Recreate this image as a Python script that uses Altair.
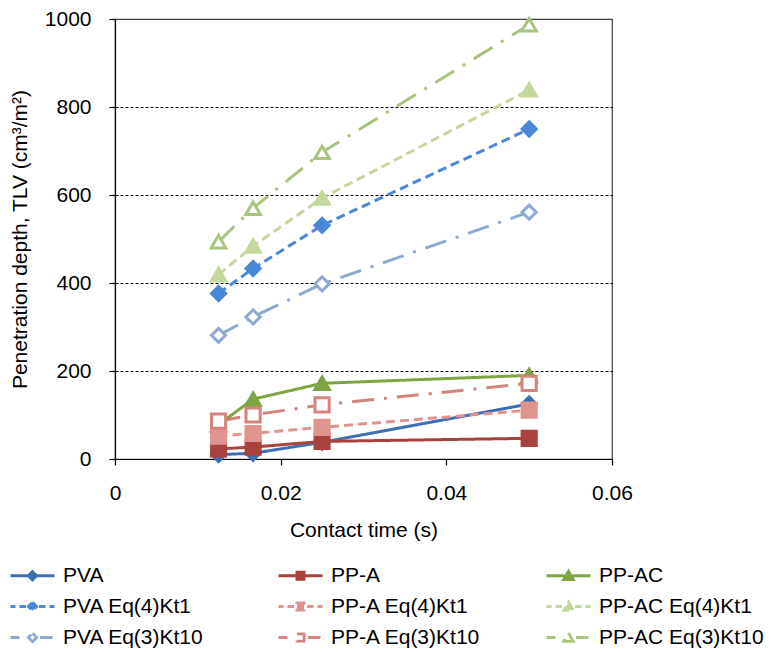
import altair as alt
import pandas as pd

# ---- data ----
contact_time = [0.0125, 0.01667, 0.025, 0.05]

# order chosen so that the 3-column legend reads row by row as in the reference
series_names = [
    "PVA", "PVA Eq(4)Kt1", "PVA Eq(3)Kt10",
    "PP-A", "PP-A Eq(4)Kt1", "PP-A Eq(3)Kt10",
    "PP-AC", "PP-AC Eq(4)Kt1", "PP-AC Eq(3)Kt10",
]
pva = [10, 13, 38, 125]
pva_eq4 = [376, 433, 531, 750]
pva_eq3 = [281, 323, 398, 561]
pp_a = [23, 27, 40, 47]
pp_a_eq4 = [52, 58, 72, 111]
pp_a_eq3 = [86, 100, 123, 172]
pp_ac = [78, 136, 172, 190]
pp_ac_eq4 = [419, 484, 593, 839]
pp_ac_eq3 = [494, 570, 697, 987]
values = [pva, pva_eq4, pva_eq3, pp_a, pp_a_eq4, pp_a_eq3, pp_ac, pp_ac_eq4, pp_ac_eq3]

y_ticks = [0, 200, 400, 600, 800, 1000]
x_ticks = [0, 0.02, 0.04, 0.06]

# ---- styles ----
colors = ["#3F6FB3", "#4A87D9", "#8EAAD2",
          "#A9423E", "#E0948F", "#D6827E",
          "#7EA444", "#C4D79C", "#A8C47E"]
markers = ["diamond"] * 3 + ["square"] * 3 + ["triangle-up"] * 3
hollow = [False, False, True] * 3
dash_kind = ["solid", "dash", "dashdot"] * 3
dash_arrays = {"solid": [1, 0], "dash": [9, 5], "dashdot": [22, 10, 3, 10]}

rows = []
for name, vals, mk in zip(series_names, values, markers):
    for t, v in zip(contact_time, vals):
        rows.append({"series": name, "t": t, "v": v, "marker": mk})
df = pd.DataFrame(rows)

fills = [("white" if h else c) for c, h in zip(colors, hollow)]

# legend symbol paths: line segments + marker (unit = 10px at size 400)
marker_paths = {
    "diamond": "M0,-0.42L0.42,0L0,0.42L-0.42,0Z",
    "square": "M-0.36,-0.36L0.36,-0.36L0.36,0.36L-0.36,0.36Z",
    "triangle-up": "M0,-0.45L0.48,0.38L-0.48,0.38Z",
}
seg_sets = {
    "solid": [(-2.2, -0.4), (0.4, 2.2)],
    "dash": [(-2.2, -1.7), (-1.3, -0.65), (0.65, 1.3), (1.7, 2.2)],
    "dashdot": [(-2.2, -1.3), (0.75, 2.0)],
}
legend_paths = []
for mk, dk in zip(markers, dash_kind):
    p = "".join(f"M{a},0L{b},0" for a, b in seg_sets[dk])
    legend_paths.append(p + marker_paths[mk])

FONT = "Liberation Sans"
sc_stroke = alt.Scale(domain=series_names, range=colors)
sc_fill = alt.Scale(domain=series_names, range=fills)

x_enc = alt.X("t:Q", scale=alt.Scale(domain=[0, 0.06]),
              axis=alt.Axis(values=x_ticks, title="Contact time (s)", format="~g",
                            grid=False, tickSize=6, labelPadding=17, titlePadding=16,
                            labelFlush=False))
y_enc = alt.Y("v:Q", scale=alt.Scale(domain=[0, 1000]),
              axis=alt.Axis(values=y_ticks, title="Penetration depth, TLV (cm³/m²)",
                            format="d", grid=True, labelFlush=False,
                            gridDash={"condition": {"test": "datum.value >= 1000", "value": [1, 0]},
                                      "value": [3, 2]},
                            gridColor={"condition": {"test": "datum.value >= 1000", "value": "#404040"},
                                       "value": "black"},
                            gridWidth=1,
                            tickSize=6, labelPadding=18, titlePadding=14))

base = alt.Chart(df)

legend_layer = base.transform_filter("false").mark_point(
    filled=True, size=400, strokeWidth=2.8, opacity=1
).encode(
    x=x_enc, y=y_enc,
    stroke=alt.Stroke("series:N", scale=sc_stroke,
                      legend=alt.Legend(title=None, orient="none", legendX=-107, legendY=545,
                                        columns=3, columnPadding=44, rowPadding=9,
                                        gridAlign="all",
                                        symbolOffset=13, labelOffset=19, symbolSize=400,
                                        symbolStrokeWidth=2.8,
                                        labelFont=FONT, labelFontSize=21, labelColor="black",
                                        labelLimit=300)),
    fill=alt.Fill("series:N", scale=sc_fill),
    shape=alt.Shape("series:N", scale=alt.Scale(domain=series_names, range=legend_paths)),
)

lines = base.mark_line(strokeWidth=3).encode(
    x="t:Q", y="v:Q",
    stroke=alt.Stroke("series:N", scale=sc_stroke),
    strokeDash=alt.StrokeDash("series:N",
                              scale=alt.Scale(domain=series_names,
                                              range=[dash_arrays[d] for d in dash_kind]),
                              legend=None),
    detail="series:N",
)

def point_layer(mk, size):
    return base.transform_filter(alt.datum.marker == mk).mark_point(
        shape=mk, size=size, filled=True, opacity=1, strokeWidth=3
    ).encode(
        x="t:Q", y="v:Q",
        stroke=alt.Stroke("series:N", scale=sc_stroke),
        fill=alt.Fill("series:N", scale=sc_fill),
    )

pts_t = point_layer("triangle-up", 210)
pts_d = point_layer("diamond", 200)
pts_s = point_layer("square", 200)

chart = alt.layer(legend_layer, lines, pts_t, pts_d, pts_s).properties(
    width=497, height=440,
    autosize=alt.AutoSizeParams(type="none"),
    padding={"left": 115, "top": 19, "right": 159, "bottom": 193},
    background="white",
).configure_view(
    stroke="#404040", strokeWidth=1.2
).configure_axis(
    labelFont=FONT, titleFont=FONT, labelFontSize=21, titleFontSize=21,
    titleFontWeight="normal", labelColor="black", titleColor="black",
    domainColor="black", tickColor="black", domainWidth=1.2, tickWidth=1.2,
)

chart.save("out.html", embed_options={"renderer": "svg", "actions": False})
